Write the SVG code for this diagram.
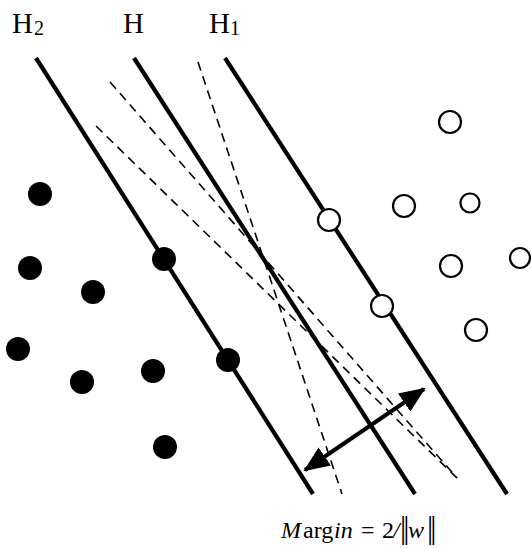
<svg xmlns="http://www.w3.org/2000/svg" width="531" height="549" viewBox="0 0 531 549">
  <style>
    .lbl { font-family: "Liberation Serif", "Times New Roman", serif; fill: #000; }
    .plane { stroke: #000; stroke-width: 4.2; fill: none; }
    .dash { stroke: #000; stroke-width: 1.6; stroke-dasharray: 9 6; fill: none; }
    .neg { fill: #000; }
    .pos { fill: #fff; stroke: #000; stroke-width: 2.2; }
    .bars { font-size: 31px; letter-spacing: -3px; }
  </style>
  <defs>
    <marker id="head" viewBox="0 0 26 22" refX="24" refY="11" markerWidth="26" markerHeight="22" markerUnits="userSpaceOnUse" orient="auto-start-reverse">
      <path d="M0,0 L26,11 L0,22 z" fill="#000"/>
    </marker>
  </defs>
  <rect width="531" height="549" fill="#fff"/>

  <g id="labels">
    <text class="lbl" x="12" y="33" font-size="29">H<tspan font-size="20" dx="1" dy="2">2</tspan></text>
    <text class="lbl" x="123" y="33" font-size="29">H</text>
    <text class="lbl" x="209" y="33" font-size="29">H<tspan font-size="20" dx="0" dy="2">1</tspan></text>
  </g>

  <g id="dashed-candidates">
    <line class="dash" x1="198" y1="62" x2="342" y2="494"/>
    <line class="dash" x1="110" y1="82" x2="457" y2="478"/>
    <line class="dash" x1="96" y1="126" x2="457" y2="478"/>
  </g>

  <g id="hyperplanes">
    <line id="H2-line" class="plane" x1="36" y1="58" x2="313" y2="494"/>
    <line id="H-line" class="plane" x1="134" y1="58" x2="415" y2="494"/>
    <line id="H1-line" class="plane" x1="225" y1="58" x2="507" y2="494"/>
  </g>

  <g id="connectors">
    <line x1="305" y1="470" x2="424" y2="389" stroke="#000" stroke-width="4" marker-start="url(#head)" marker-end="url(#head)"/>
  </g>

  <g id="negative-points">
    <circle class="neg" cx="40" cy="194" r="12"/>
    <circle class="neg" cx="30" cy="268" r="12"/>
    <circle class="neg" cx="93" cy="292" r="12"/>
    <circle class="neg" cx="164" cy="259" r="12"/>
    <circle class="neg" cx="18" cy="349" r="12"/>
    <circle class="neg" cx="82" cy="382" r="12"/>
    <circle class="neg" cx="153" cy="371" r="12"/>
    <circle class="neg" cx="228" cy="360" r="12"/>
    <circle class="neg" cx="165" cy="447" r="12"/>
  </g>

  <g id="positive-points">
    <circle class="pos" cx="450" cy="122" r="11"/>
    <circle class="pos" cx="404" cy="206" r="11"/>
    <circle class="pos" cx="470" cy="203" r="9.5"/>
    <circle class="pos" cx="329" cy="220" r="11"/>
    <circle class="pos" cx="451" cy="266" r="11"/>
    <circle class="pos" cx="520" cy="258" r="10"/>
    <circle class="pos" cx="382" cy="306" r="11"/>
    <circle class="pos" cx="476" cy="330" r="11"/>
  </g>

  <g id="formula">
    <text class="lbl" y="538" font-size="24"><tspan x="281" font-style="italic">M</tspan><tspan x="303">arg</tspan><tspan x="334" font-style="italic">in</tspan><tspan x="361">=</tspan><tspan x="382">2</tspan><tspan x="393" font-style="italic">/</tspan><tspan x="400" class="bars">||</tspan><tspan x="408" font-style="italic">w</tspan><tspan x="427" class="bars">||</tspan></text>
  </g>
</svg>
